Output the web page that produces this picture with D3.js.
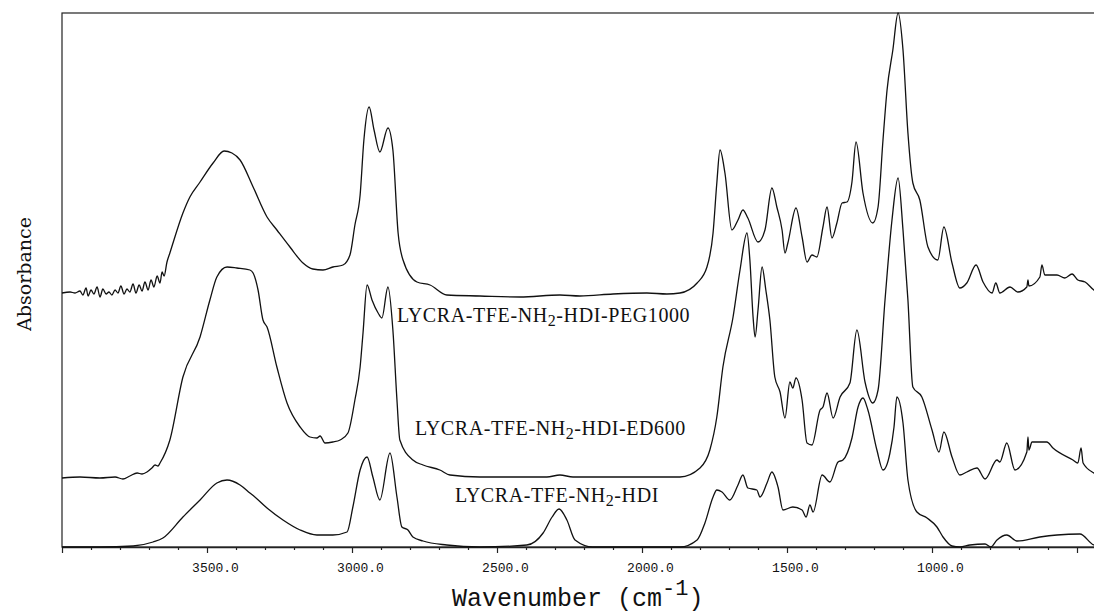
<!DOCTYPE html>
<html>
<head>
<meta charset="utf-8">
<script src="https://cdn.jsdelivr.net/npm/d3@7/dist/d3.min.js"></script>
<style>
  html, body { margin: 0; padding: 0; background: #fff; }
  svg { display: block; }
</style>
</head>
<body>
<svg id="chart" width="1094" height="616"></svg>
<script>
// [wavenumber (cm-1), absorbance (arb., stacked offsets included)]
const peg1000 = [
  [4000, 1.27], [3972, 1.275], [3955, 1.27], [3938, 1.28], [3928, 1.26], [3917, 1.295],
  [3910, 1.255], [3900, 1.285], [3890, 1.265], [3879, 1.30], [3869, 1.25], [3859, 1.29],
  [3848, 1.265], [3838, 1.275], [3828, 1.26], [3817, 1.285], [3807, 1.27], [3797, 1.305],
  [3786, 1.265], [3776, 1.29], [3766, 1.275], [3755, 1.315], [3745, 1.27], [3734, 1.31],
  [3724, 1.28], [3714, 1.325], [3703, 1.285], [3693, 1.335], [3683, 1.30], [3672, 1.355],
  [3662, 1.32], [3655, 1.375], [3648, 1.355], [3638, 1.425], [3628, 1.47], [3583, 1.67],
  [3559, 1.75], [3524, 1.825], [3479, 1.92], [3441, 1.98], [3414, 1.97], [3386, 1.935],
  [3341, 1.80], [3293, 1.65], [3259, 1.585], [3214, 1.50], [3169, 1.42], [3135, 1.39],
  [3100, 1.385], [3066, 1.40], [3031, 1.41], [3007, 1.46], [2990, 1.61], [2972, 1.76],
  [2959, 2.035], [2941, 2.20], [2924, 2.085], [2904, 1.975], [2876, 2.095], [2859, 1.985],
  [2841, 1.57], [2824, 1.435], [2776, 1.325], [2731, 1.31], [2673, 1.26], [2559, 1.255],
  [2421, 1.25], [2283, 1.26], [2214, 1.255], [2100, 1.265], [1983, 1.27], [1914, 1.265],
  [1869, 1.27], [1810, 1.32], [1776, 1.40], [1755, 1.57], [1742, 1.82], [1731, 1.985],
  [1714, 1.87], [1690, 1.585], [1669, 1.635], [1652, 1.685], [1635, 1.645], [1600, 1.525],
  [1576, 1.585], [1552, 1.795], [1535, 1.70], [1517, 1.585], [1507, 1.47], [1497, 1.52],
  [1469, 1.695], [1448, 1.55], [1431, 1.425], [1414, 1.46], [1397, 1.45], [1376, 1.60],
  [1362, 1.70], [1345, 1.545], [1328, 1.62], [1310, 1.72], [1293, 1.725], [1276, 1.825],
  [1262, 2.025], [1238, 1.77], [1204, 1.62], [1186, 1.70], [1169, 2.035], [1155, 2.285],
  [1135, 2.485], [1117, 2.67], [1100, 2.485], [1083, 2.07], [1066, 1.82], [1042, 1.735],
  [1014, 1.50], [980, 1.435], [959, 1.60], [931, 1.42], [904, 1.295], [880, 1.32],
  [848, 1.41], [824, 1.325], [793, 1.27], [780, 1.32], [766, 1.27], [731, 1.30],
  [704, 1.275], [673, 1.30], [669, 1.335], [666, 1.305], [628, 1.35], [621, 1.41],
  [611, 1.36], [569, 1.36], [542, 1.345], [517, 1.365], [497, 1.335], [472, 1.325],
  [442, 1.285], [400, 1.26]
]

const ed600 = [
  [4000, 0.345], [3938, 0.35], [3869, 0.345], [3817, 0.35], [3790, 0.34], [3766, 0.355],
  [3741, 0.37], [3724, 0.365], [3707, 0.375], [3690, 0.395], [3679, 0.41], [3669, 0.405],
  [3662, 0.42], [3628, 0.535], [3583, 0.85], [3524, 1.05], [3490, 1.235], [3466, 1.35],
  [3431, 1.40], [3397, 1.395], [3352, 1.385], [3341, 1.37], [3324, 1.285], [3307, 1.135],
  [3293, 1.10], [3259, 0.90], [3224, 0.72], [3179, 0.60], [3145, 0.55], [3121, 0.545],
  [3110, 0.555], [3093, 0.52], [3066, 0.525], [3041, 0.535], [3014, 0.57], [2990, 0.735],
  [2972, 0.90], [2962, 1.07], [2948, 1.31], [2931, 1.235], [2910, 1.17], [2897, 1.145],
  [2876, 1.30], [2859, 1.085], [2845, 0.735], [2835, 0.535], [2790, 0.435], [2755, 0.41],
  [2697, 0.385], [2662, 0.36], [2559, 0.35], [2328, 0.35], [2283, 0.36], [2238, 0.35],
  [1869, 0.35], [1800, 0.395], [1766, 0.485], [1742, 0.65], [1721, 0.90], [1686, 1.15],
  [1662, 1.385], [1638, 1.57], [1628, 1.435], [1617, 1.15], [1610, 1.05], [1600, 1.185],
  [1586, 1.40], [1573, 1.285], [1559, 1.135], [1542, 0.85], [1524, 0.775], [1507, 0.645],
  [1490, 0.825], [1480, 0.795], [1469, 0.845], [1448, 0.735], [1431, 0.52], [1414, 0.51],
  [1386, 0.685], [1376, 0.70], [1362, 0.77], [1341, 0.645], [1317, 0.75], [1283, 0.82],
  [1259, 1.085], [1231, 0.825], [1204, 0.72], [1186, 0.785], [1162, 1.235], [1138, 1.635],
  [1117, 1.845], [1100, 1.585], [1083, 1.235], [1066, 0.80], [1035, 0.75], [1000, 0.585],
  [976, 0.475], [959, 0.575], [931, 0.45], [904, 0.36], [880, 0.375], [845, 0.395],
  [817, 0.34], [776, 0.435], [766, 0.425], [742, 0.52], [714, 0.385], [673, 0.475],
  [669, 0.55], [666, 0.485], [655, 0.525], [604, 0.525], [583, 0.495], [514, 0.435],
  [497, 0.42], [486, 0.495], [479, 0.42], [442, 0.37], [400, 0.35]
]

const hdi = [
  [4000, 0], [3869, 0], [3755, 0.005], [3686, 0.025], [3652, 0.045], [3583, 0.15],
  [3524, 0.235], [3466, 0.32], [3431, 0.335], [3386, 0.31], [3352, 0.27], [3335, 0.25],
  [3293, 0.195], [3238, 0.135], [3179, 0.085], [3121, 0.06], [3066, 0.06], [3017, 0.075],
  [2997, 0.20], [2972, 0.385], [2948, 0.45], [2928, 0.35], [2904, 0.235], [2869, 0.47],
  [2845, 0.25], [2828, 0.10], [2807, 0.085], [2790, 0.05], [2755, 0.03], [2673, 0.01],
  [2559, 0], [2397, 0.01], [2341, 0.07], [2310, 0.15], [2286, 0.19], [2259, 0.135],
  [2231, 0.035], [2169, 0], [1869, 0], [1810, 0.035], [1783, 0.12], [1755, 0.25],
  [1742, 0.285], [1724, 0.275], [1697, 0.235], [1669, 0.31], [1652, 0.36], [1635, 0.295],
  [1604, 0.285], [1593, 0.25], [1569, 0.32], [1552, 0.375], [1531, 0.30], [1514, 0.185],
  [1480, 0.20], [1448, 0.185], [1434, 0.15], [1421, 0.21], [1410, 0.175], [1379, 0.36],
  [1352, 0.325], [1324, 0.425], [1307, 0.435], [1276, 0.545], [1255, 0.70], [1238, 0.745],
  [1221, 0.685], [1190, 0.485], [1169, 0.385], [1145, 0.47], [1131, 0.60], [1121, 0.75],
  [1100, 0.62], [1083, 0.335], [1052, 0.175], [1017, 0.145], [983, 0.10], [962, 0.05],
  [931, 0.005], [904, 0], [869, 0.01], [817, 0.015], [797, 0], [776, 0.035],
  [742, 0.06], [707, 0.03], [628, 0.05], [569, 0.06], [490, 0.065], [442, 0.01], [400, 0]
]

const seriesNames = ['LYCRA-TFE-NH|2|-HDI-PEG1000', 'LYCRA-TFE-NH|2|-HDI-ED600', 'LYCRA-TFE-NH|2|-HDI']
const seriesLabelPos = [[397, 322], [415, 435], [455, 502]]
const minorTicks = d3.range(4000, 399, -100)
const labelledTicks = [3500, 3000, 2500, 2000, 1500, 1000]

const svg = d3.select('#chart')
const x = d3.scaleLinear().domain([4000, 400]).range([62, 1106])
const y = d3.scaleLinear().domain([0, 2.67]).range([547, 13])

// frame (right side runs off the page like the scan)
svg.append('rect')
  .attr('x', x(4000))
  .attr('y', y(2.67))
  .attr('width', x(400) - x(4000))
  .attr('height', y(0) - y(2.67))
  .attr('fill', 'none')
  .attr('stroke', '#222')
  .attr('stroke-width', 1.2)

const axis = d3.axisBottom(x)
  .tickValues(minorTicks)
  .tickSize(3)
  .tickSizeOuter(0)
  .tickFormat(d => (labelledTicks.includes(d) ? d3.format('.1f')(d) : ''))

const axisG = svg.append('g')
  .attr('transform', `translate(0,${y(0)})`)
  .call(axis)
axisG.select('.domain').attr('stroke', '#222').attr('stroke-width', 1.4)
axisG.selectAll('.tick line')
  .attr('stroke', '#222')
  .attr('stroke-width', 1.2)
  .attr('y2', d => (d % 500 === 0 ? 6 : 3))
axisG.selectAll('.tick text')
  .attr('y', 25)
  .attr('dy', 0)
  .attr('dx', 8)
  .attr('fill', '#111')
  .style('font-family', '"Liberation Mono", "DejaVu Sans Mono", monospace')
  .style('font-size', '13px')

const line = d3.line()
  .x(d => x(d[0]))
  .y(d => y(d[1]))
  .curve(d3.curveMonotoneX)

svg.append('g')
  .selectAll('path')
  .data([peg1000, ed600, hdi])
  .join('path')
  .attr('d', line)
  .attr('fill', 'none')
  .attr('stroke', '#111')
  .attr('stroke-width', 1.3)
  .attr('stroke-linejoin', 'round')

// series labels with subscript 2
const labels = svg.append('g')
  .style('font-family', '"Liberation Serif", "DejaVu Serif", serif')
  .style('font-size', '20px')
  .attr('fill', '#111')
labels.selectAll('text')
  .data(seriesNames)
  .join('text')
  .attr('x', (d, i) => seriesLabelPos[i][0])
  .attr('y', (d, i) => seriesLabelPos[i][1])
  .attr('letter-spacing', 0.6)
  .each(function (d) {
    const parts = d.split('|')
    const t = d3.select(this)
    t.append('tspan').text(parts[0])
    t.append('tspan').text(parts[1]).attr('dy', 4).style('font-size', '16px')
    t.append('tspan').text(parts[2]).attr('dy', -4)
  })

svg.append('text')
  .attr('transform', 'translate(31,274) rotate(-90)')
  .attr('text-anchor', 'middle')
  .attr('fill', '#111')
  .style('font-family', '"DejaVu Serif", "Liberation Serif", serif')
  .style('font-size', '19px')
  .text('Absorbance')

const xTitle = svg.append('text')
  .attr('x', 452)
  .attr('y', 606)
  .attr('fill', '#111')
  .style('font-family', '"Liberation Mono", "DejaVu Sans Mono", monospace')
  .style('font-size', '25px')
xTitle.append('tspan').text('Wavenumber (cm')
xTitle.append('tspan').text('-1').attr('dy', -11).style('font-size', '22px')
xTitle.append('tspan').text(')').attr('dy', 11)
</script>
</body>
</html>
